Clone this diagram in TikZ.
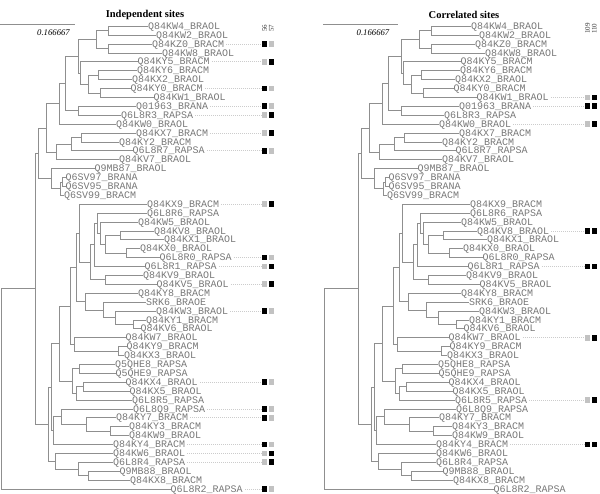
\documentclass[tikz,border=0pt]{standalone}
\usepackage{fontspec}
\setmainfont{Liberation Serif}
\newfontfamily\monof{Liberation Mono}
\usetikzlibrary{calc}
\definecolor{treeg}{rgb}{0.56,0.56,0.56}
\definecolor{labg}{rgb}{0.47,0.47,0.47}
\definecolor{dotg}{rgb}{0.80,0.80,0.80}
\definecolor{sqg}{rgb}{0.76,0.76,0.76}
\tikzset{
 edge/.style={draw=treeg, line width=0.7pt},
 lab/.style={font=\monof\fontsize{10}{12}\selectfont, text=labg, anchor=west, inner sep=0pt, text height=6.4pt, text depth=0pt},
 sqbox/.style={minimum size=5.7pt, inner sep=0pt},
 dots/.style={draw=dotg, line width=0.6pt, dash pattern=on 1pt off 1pt},
 ttl/.style={font=\bfseries\fontsize{10.5}{12}\selectfont},
 scl/.style={font=\itshape\fontsize{8.7}{10}\selectfont, inner sep=0pt},
 colh/.style={font=\fontsize{7}{8}\selectfont, rotate=90, inner sep=0pt, text=black!80},
}
\newcommand\tpre{A}
\newcommand\rowy[1]{26.2+(#1-1)*8.9}
\newcommand\lf[3]{\node[lab] (\tpre L#1) at (#2,{\rowy{#1}}) {#3};}
\newcommand\nd[4]{%
 \coordinate (\tpre tmp) at ($(\tpre #3)!0.5!(\tpre #4)$);
 \coordinate (\tpre #1) at (perpendicular cs: horizontal line through={(\tpre tmp)}, vertical line through={(#2,0)});
 \draw[edge] (\tpre #1) |- (\tpre #3) (\tpre #1) |- (\tpre #4);}
\newcommand\mk[3]{%
 \node[sqbox,fill=#2] (\tpre S#1a) at (264.6,{\rowy{#1}}) {};
 \node[sqbox,fill=#3] (\tpre S#1b) at (271.4,{\rowy{#1}}) {};
 \draw[dots] ([xshift=2pt]\tpre L#1.east) -- (\tpre S#1a.west);}
\newcommand\phylo{%
 \coordinate (\tpre sb1) at (0,24.7);
 \coordinate (\tpre sb2) at (75,24.7);
 \draw[edge] (\tpre sb1) -- (\tpre sb2);
 \lf{1}{148}{Q84KW4\_BRAOL}
 \lf{2}{156}{Q84KW2\_BRAOL}
 \lf{3}{152}{Q84KZ0\_BRACM}
 \lf{4}{162}{Q84KW8\_BRAOL}
 \lf{5}{137.5}{Q84KY5\_BRACM}
 \lf{6}{137}{Q84KY6\_BRACM}
 \lf{7}{132}{Q84KX2\_BRAOL}
 \lf{8}{130.5}{Q84KY0\_BRACM}
 \lf{9}{153.5}{Q84KW1\_BRAOL}
 \lf{10}{136}{Q01963\_BRANA}
 \lf{11}{121}{Q6L8R3\_RAPSA}
 \lf{12}{116}{Q84KW0\_BRAOL}
 \lf{13}{136}{Q84KX7\_BRACM}
 \lf{14}{119}{Q84KY2\_BRACM}
 \lf{15}{132.5}{Q6L8R7\_RAPSA}
 \lf{16}{119}{Q84KV7\_BRAOL}
 \lf{17}{94.5}{Q9MB87\_BRAOL}
 \lf{18}{65.5}{Q6SV97\_BRANA}
 \lf{19}{65.5}{Q6SV95\_BRANA}
 \lf{20}{63.8}{Q6SV99\_BRACM}
 \lf{21}{147}{Q84KX9\_BRACM}
 \lf{22}{147}{Q6L8R6\_RAPSA}
 \lf{23}{138}{Q84KW5\_BRAOL}
 \lf{24}{154}{Q84KV8\_BRAOL}
 \lf{25}{164}{Q84KX1\_BRAOL}
 \lf{26}{140}{Q84KX0\_BRAOL}
 \lf{27}{159.5}{Q6L8R0\_RAPSA}
 \lf{28}{144.5}{Q6L8R1\_RAPSA}
 \lf{29}{143}{Q84KV9\_BRAOL}
 \lf{30}{156.5}{Q84KV5\_BRAOL}
 \lf{31}{138}{Q84KY8\_BRACM}
 \lf{32}{146}{SRK6\_BRAOE}
 \lf{33}{156}{Q84KW3\_BRAOL}
 \lf{34}{145.8}{Q84KY1\_BRACM}
 \lf{35}{140.5}{Q84KV6\_BRAOL}
 \lf{36}{125.5}{Q84KW7\_BRAOL}
 \lf{37}{126.5}{Q84KY9\_BRACM}
 \lf{38}{124}{Q84KX3\_BRAOL}
 \lf{39}{115}{Q5QHE8\_RAPSA}
 \lf{40}{115.5}{Q5QHE9\_RAPSA}
 \lf{41}{125.5}{Q84KX4\_BRAOL}
 \lf{42}{129.5}{Q84KX5\_BRAOL}
 \lf{43}{132}{Q6L8R5\_RAPSA}
 \lf{44}{133}{Q6L8Q9\_RAPSA}
 \lf{45}{116}{Q84KY7\_BRACM}
 \lf{46}{129}{Q84KY3\_BRACM}
 \lf{47}{129}{Q84KW9\_BRAOL}
 \lf{48}{113}{Q84KY4\_BRACM}
 \lf{49}{113}{Q84KW6\_BRAOL}
 \lf{50}{113}{Q6L8R4\_RAPSA}
 \lf{51}{119.5}{Q9MB88\_BRAOL}
 \lf{52}{130}{Q84KX8\_BRACM}
 \lf{53}{170.5}{Q6L8R2\_RAPSA}
 \nd{n1}{108.3}{L1}{L2}
 \nd{n2}{108.3}{L3}{L4}
 \nd{n3}{96.7}{n1}{n2}
 \nd{n4}{98.3}{L6}{L7}
 \nd{n5}{100}{L8}{L9}
 \nd{n6}{88.3}{n4}{n5}
 \nd{n7}{80}{L5}{n6}
 \nd{n8}{78.3}{n3}{n7}
 \nd{n9}{78.3}{L10}{L11}
 \nd{n10}{65}{n8}{n9}
 \nd{n11}{59.3}{n10}{L12}
 \nd{n13}{81.7}{L13}{L14}
 \nd{n14}{71.7}{n13}{L15}
 \nd{n15}{56.7}{n14}{L16}
 \nd{n12}{46.7}{n11}{n15}
 \nd{n16}{62}{L18}{L19}
 \nd{n17}{60.7}{n16}{L20}
 \nd{n18}{51.7}{L17}{n17}
 \nd{n19}{38}{n12}{n18}
 \nd{d2}{120}{L24}{L25}
 \nd{d1}{126.7}{L26}{L27}
 \nd{d3}{105}{d2}{d1}
 \nd{e1}{100}{L23}{d3}
 \nd{e2}{97.5}{L22}{e1}
 \nd{e3}{94}{e2}{L28}
 \nd{d7}{105.3}{L29}{L30}
 \nd{e4}{90.3}{e3}{d7}
 \nd{e5}{79}{L21}{e4}
 \nd{f1}{133.3}{L34}{L35}
 \nd{f2}{115}{L33}{f1}
 \nd{f3}{103.3}{L32}{f2}
 \nd{f4}{85}{L31}{f3}
 \nd{g1}{76.7}{e5}{f4}
 \nd{h1}{118.3}{L37}{L38}
 \nd{h2}{74}{L36}{h1}
 \nd{i1}{70}{g1}{h2}
 \nd{c3}{79}{L39}{L40}
 \nd{c1}{83}{L41}{L42}
 \nd{c2}{76}{c1}{L43}
 \nd{c4}{72}{c3}{c2}
 \nd{j1}{59.3}{i1}{c4}
 \nd{a5}{110}{L46}{L47}
 \nd{a6}{86.7}{L45}{a5}
 \nd{a7}{61.7}{L44}{a6}
 \nd{a8}{53.3}{a7}{L48}
 \nd{k1}{51.7}{j1}{a8}
 \nd{a1}{88.3}{L51}{L52}
 \nd{a2}{78.3}{L50}{a1}
 \nd{a3}{55}{L49}{a2}
 \nd{lo}{48.3}{k1}{a3}
 \nd{n20}{35.5}{n19}{lo}
 \nd{rt}{1}{n20}{L53}
}
\begin{document}
\begin{tikzpicture}[x=1pt,y=-1pt]
\useasboundingbox (0,0) rectangle (600,494);
\node[ttl] (t1) at (145,14.5) {Independent sites};
\node[ttl] (t2) at (464,14.5) {Correlated sites};
\begin{scope}
 \renewcommand\tpre{A}
 \phylo
 \node[scl] (Asl) at (53.5,32.3) {0.166667};
 \node[colh] (Ah1) at (264.6,28.5) {56};
 \node[colh] (Ah2) at (271.4,28.5) {57};
 \mk{3}{black}{sqg}
 \mk{5}{sqg}{black}
 \mk{8}{black}{sqg}
 \mk{10}{black}{sqg}
 \mk{11}{sqg}{black}
 \mk{13}{sqg}{black}
 \mk{15}{black}{sqg}
 \mk{21}{sqg}{black}
 \mk{27}{black}{sqg}
 \mk{28}{sqg}{black}
 \mk{30}{sqg}{black}
 \mk{33}{black}{sqg}
 \mk{41}{black}{sqg}
 \mk{44}{black}{sqg}
 \mk{45}{black}{sqg}
 \mk{48}{black}{sqg}
 \mk{49}{sqg}{black}
 \mk{50}{sqg}{black}
 \mk{53}{black}{sqg}
\end{scope}
\begin{scope}[xshift=323pt]
 \renewcommand\tpre{B}
 \phylo
 \node[scl] (Bsl) at (50,32.3) {0.166667};
 \node[colh] (Bh1) at (264.6,28.7) {109};
 \node[colh] (Bh2) at (271.4,28.7) {110};
 \mk{9}{sqg}{black}
 \mk{10}{black}{black}
 \mk{12}{sqg}{black}
 \mk{24}{black}{black}
 \mk{28}{black}{black}
 \mk{36}{sqg}{black}
 \mk{43}{sqg}{black}
 \mk{48}{black}{black}
\end{scope}
\end{tikzpicture}
\end{document}
